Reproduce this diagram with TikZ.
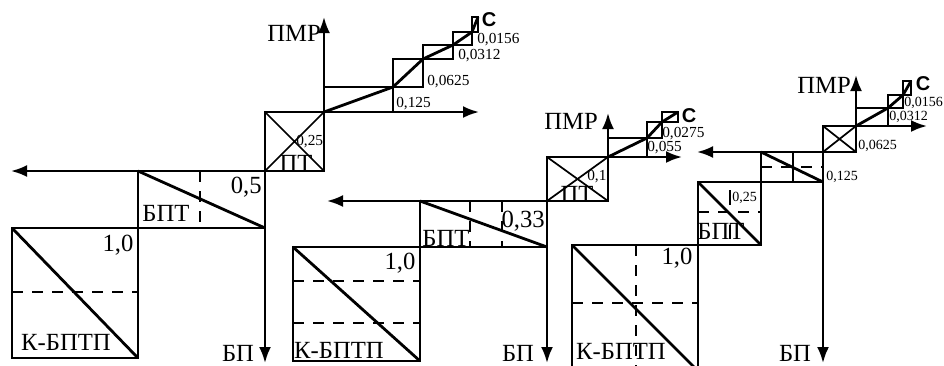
\documentclass[tikz,border=0pt]{standalone}
\usepackage{fontspec}
\setmainfont{Liberation Serif}
\setsansfont{Liberation Sans}
\usetikzlibrary{arrows.meta}

\tikzset{
  edge/.style={line width=2.1pt},
  fine/.style={line width=1.3pt},
  dashln/.style={line width=2pt, dash pattern=on 8.5pt off 6.5pt},
  axis/.style={line width=1.8pt, -{Latex[length=12pt,width=9pt]}},
  biglbl/.style={inner sep=0pt, font=\fontsize{18.5}{19}\selectfont},
  smalllbl/.style={inner sep=0pt, anchor=west, font=\fontsize{11.5}{12}\selectfont},
  tinylbl/.style={smalllbl, font=\fontsize{10.5}{11}\selectfont},
  clbl/.style={inner sep=0pt, font=\sffamily\bfseries\fontsize{15}{15}\selectfont}
}

\begin{document}
\begin{tikzpicture}[x=0.75pt, y=-0.75pt]
  \clip (0,0) rectangle (944,365);

  \coordinate (pmr1o) at (324,112);
  \coordinate (bp1o) at (265,171);
  \draw[edge] (bp1o) rectangle (pmr1o);
  \draw[fine] (265,112) -- (324,171) (bp1o) -- (pmr1o);
  \draw[axis] (bp1o) -- (11,171);
  \draw[axis] (bp1o) -- (265,363);
  \draw[axis] (pmr1o) -- (324,17);
  \draw[axis] (pmr1o) -- (479,112);
  \draw[edge] (138,171) rectangle (265,228);
  \draw[edge] (138,171) -- (265,228);
  \draw[dashln] (200,171) -- (200,228);
  \draw[edge] (12,228) rectangle (138,358);
  \draw[edge] (12,228) -- (138,358);
  \draw[dashln] (12,292) -- (138,292);
  \foreach \xa/\ya/\xb/\yb in {324/112/393/87, 393/87/423/59, 423/59/453/45, 453/45/472/32, 472/32/478/17}{
    \draw[fine] (\xa,\ya) rectangle (\xb,\yb);
    \draw[edge] (\xa,\ya) -- (\xb,\yb);
  }
  \node[biglbl, anchor=east] (pmr1) at (321,33) {ПМР};
  \node[smalllbl] (v1a) at (396,104) {0,125};
  \node[smalllbl] (v1b) at (427,82) {0,0625};
  \node[smalllbl] (v1c) at (458,56) {0,0312};
  \node[smalllbl] (v1d) at (477,40) {0,0156};
  \node[clbl] (c1) at (489,20) {C};
  \node[smalllbl] (v1e) at (296,142) {0,25};
  \node[biglbl] (pt1) at (296,163) {ПТ};
  \node[biglbl, anchor=east] (v1f) at (262,187) {0,5};
  \node[biglbl] (bpt1) at (166,213) {БПТ};
  \node[biglbl] (one1) at (118,245) {1,0};
  \node[biglbl] (kb1) at (66,342) {К-БПТП};
  \node[biglbl] (bp1) at (238,353) {БП};

  \coordinate (pmr2o) at (608,157);
  \coordinate (bp2o) at (547,201);
  \draw[edge] (bp2o) rectangle (pmr2o);
  \draw[fine] (547,157) -- (608,201) (bp2o) -- (pmr2o);
  \draw[axis] (bp2o) -- (327,201);
  \draw[axis] (bp2o) -- (547,363);
  \draw[axis] (pmr2o) -- (608,113);
  \draw[axis] (pmr2o) -- (682,157);
  \draw[edge] (420,201) rectangle (547,247);
  \draw[edge] (420,201) -- (547,247);
  \draw[dashln] (470,201) -- (470,247) (502,201) -- (502,247);
  \draw[edge] (293,247) rectangle (420,361);
  \draw[edge] (293,247) -- (420,361);
  \draw[dashln] (293,281) -- (420,281) (293,323) -- (420,323);
  \foreach \xa/\ya/\xb/\yb in {608/157/647/138, 647/138/662/122, 662/122/678/112}{
    \draw[fine] (\xa,\ya) rectangle (\xb,\yb);
    \draw[edge] (\xa,\ya) -- (\xb,\yb);
  }
  \node[biglbl, anchor=east] (pmr2) at (598,121) {ПМР};
  \node[clbl] (c2) at (689,116) {C};
  \node[smalllbl] (v2a) at (662,134) {0,0275};
  \node[smalllbl] (v2b) at (647,148) {0,055};
  \node[smalllbl] (v2c) at (587,177) {0,1};
  \node[biglbl] (pt2) at (577,194) {ПТ};
  \node[biglbl, anchor=east] (v2d) at (545,221) {0,33};
  \node[biglbl] (bpt2) at (446,238) {БПТ};
  \node[biglbl] (one2) at (400,263) {1,0};
  \node[biglbl] (kb2) at (339,350) {К-БПТП};
  \node[biglbl] (bp2) at (518,353) {БП};

  \coordinate (pmr3o) at (856,126);
  \coordinate (bp3o) at (823,152);
  \draw[edge] (bp3o) rectangle (pmr3o);
  \draw[fine] (823,126) -- (856,152) (bp3o) -- (pmr3o);
  \draw[axis] (bp3o) -- (697,152);
  \draw[axis] (bp3o) -- (823,363);
  \draw[axis] (pmr3o) -- (856,75);
  \draw[axis] (pmr3o) -- (927,126);
  \draw[edge] (761,152) rectangle (823,182);
  \draw[edge] (761,152) -- (823,182);
  \draw[fine] (793,152) -- (793,182);
  \draw[dashln] (761,167) -- (823,167);
  \draw[edge] (698,182) rectangle (761,245);
  \draw[edge] (698,182) -- (761,245);
  \draw[dashln] (698,212) -- (761,212);
  \draw[fine, dash pattern=on 11pt off 15pt] (730,190) -- (730,245);
  \draw[edge] (572,370) -- (572,245) -- (698,245) -- (698,370);
  \draw[edge] (572,245) -- (698,371);
  \draw[dashln] (636,245) -- (636,370);
  \draw[dashln] (572,303) -- (698,303);
  \foreach \xa/\ya/\xb/\yb in {856/126/888/108, 888/108/903/95, 903/95/911/81}{
    \draw[fine] (\xa,\ya) rectangle (\xb,\yb);
    \draw[edge] (\xa,\ya) -- (\xb,\yb);
  }
  \node[biglbl, anchor=east] (pmr3) at (851,85) {ПМР};
  \node[clbl] (c3) at (923,84) {C};
  \node[tinylbl] (v3a) at (904,103) {0,0156};
  \node[tinylbl] (v3b) at (889,117) {0,0312};
  \node[tinylbl] (v3c) at (858,146) {0,0625};
  \node[tinylbl] (v3d) at (826,177) {0,125};
  \node[tinylbl] (v3e) at (732,198) {0,25};
  \node[biglbl] (bpt3) at (721,231) {БПТ};
  \node[biglbl] (one3) at (677,258) {1,0};
  \node[biglbl] (kb3) at (621,351) {К-БПТП};
  \node[biglbl] (bp3) at (795,353) {БП};
\end{tikzpicture}
\end{document}
